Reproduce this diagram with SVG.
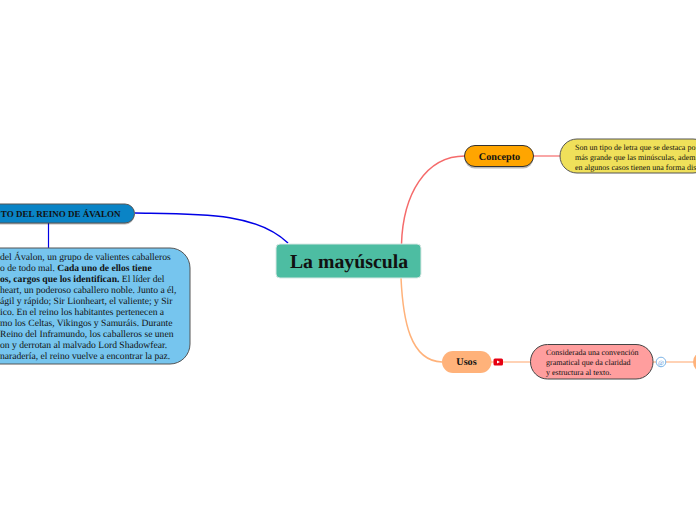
<svg xmlns="http://www.w3.org/2000/svg" width="696" height="520" viewBox="0 0 696 520">
<style>
text{font-family:"Liberation Serif","Times New Roman",serif;fill:#111;text-rendering:geometricPrecision}
.c{fill:none}
.b{font-weight:bold}
.t{font-size:9.6px}
.s{font-size:8px}
.shadow{fill:#000;opacity:.28}
</style>
<rect width="696" height="520" fill="#fff"/>
<g id="connectors">
<path class="c" d="M401.500 244C403 195 425 156 465 156" stroke="#f56b6b" stroke-width="1.500"/>
<path class="c" d="M534 156H561" stroke="#f56b6b" stroke-width="1.200"/>
<path class="c" d="M401 278C403 320 410 361 442 362" stroke="#ffb27a" stroke-width="1.500"/>
<path class="c" d="M491 362H531" stroke="#ffd2b5" stroke-width="2"/>
<path class="c" d="M653 362H696" stroke="#ffd2b5" stroke-width="2"/>
<path class="c" d="M135 213C200 214 255 212 288 243" stroke="#0000e6" stroke-width="1.500"/>
<path class="c" d="M48.500 223V248" stroke="#0000e6" stroke-width="1.200"/>
</g>
<g id="root">
<rect x="276" y="244" width="145" height="34" rx="4" fill="#4dbda2" stroke="#d8e8e4"/>
<text x="349" y="268" text-anchor="middle" class="b" font-size="19.800">La mayúscula</text>
</g>
<g id="concepto">
<rect x="464.500" y="146.500" width="69" height="21" rx="10.500" class="shadow" transform="translate(0 1)"/>
<rect x="464.500" y="145.500" width="69" height="21" rx="10.500" fill="#ffa500" stroke="#333"/>
<text x="499.500" y="160" text-anchor="middle" class="b" font-size="10.200">Concepto</text>
</g>
<g id="concepto-text">
<rect x="560" y="139" width="150" height="34" rx="17" fill="#efe05a" stroke="#555"/>
<text class="s" x="575" y="150">Son un tipo de letra que se destaca po</text>
<text class="s" x="575" y="160">más grande que las minúsculas, adem</text>
<text class="s" x="575" y="170">en algunos casos tienen una forma dis</text>
</g>
<g id="usos">
<rect x="442" y="351" width="49.500" height="22" rx="11" fill="#ffb27a"/>
<text x="466.500" y="365" text-anchor="middle" class="b" font-size="10.200">Usos</text>
<rect x="493.500" y="358.500" width="9.500" height="7" rx="1.500" fill="#e60012"/>
<path d="M497 360.500L500 362L497 363.500Z" fill="#fff"/>
</g>
<g id="usos-text">
<rect x="530.500" y="344.500" width="122.500" height="34.500" rx="17" fill="#ff9e9e" stroke="#444"/>
<text class="s" x="546" y="355">Considerada una convención</text>
<text class="s" x="546" y="365">gramatical que da claridad</text>
<text class="s" x="546" y="375">y estructura al texto.</text>
<circle cx="661" cy="362" r="4.800" fill="#fff" stroke="#7db4e6"/>
<text x="661" y="364.500" text-anchor="middle" font-size="6.500" style="fill:#4a90d9">@</text>
</g>
<g id="next-node">
<rect x="693" y="351" width="40" height="22" rx="11" fill="#ffb27a"/>
</g>
<g id="reino-title">
<rect x="-60" y="205" width="194.500" height="19" rx="9.500" class="shadow" transform="translate(0 .5)"/>
<rect x="-60" y="204" width="194.500" height="19" rx="9.500" fill="#0a84c6" stroke="#555"/>
<text x="120.500" y="216.500" text-anchor="end" class="b" font-size="9">TO DEL REINO DE ÁVALON</text>
</g>
<g id="reino-text">
<rect x="-40" y="248" width="230" height="116" rx="20" fill="#76c5ee" stroke="#555"/>
<text class="t" x="0" y="260">del Ávalon, un grupo de valientes caballeros</text>
<text class="t" x="0" y="271">o de todo mal. <tspan class="b">Cada uno de ellos tiene</tspan></text>
<text class="t" x="0" y="282"><tspan class="b">os, cargos que los identifican.</tspan> El líder del</text>
<text class="t" x="0" y="293">heart, un poderoso caballero noble. Junto a él,</text>
<text class="t" x="0" y="304">ágil y rápido; Sir Lionheart, el valiente; y Sir</text>
<text class="t" x="0" y="315">ico. En el reino los habitantes pertenecen a</text>
<text class="t" x="0" y="326">mo los Celtas, Vikingos y Samuráis. Durante</text>
<text class="t" x="0" y="337">Reino del Inframundo, los caballeros se unen</text>
<text class="t" x="0" y="348">on y derrotan al malvado Lord Shadowfear.</text>
<text class="t" x="0" y="359">naradería, el reino vuelve a encontrar la paz.</text>
</g>
</svg>
